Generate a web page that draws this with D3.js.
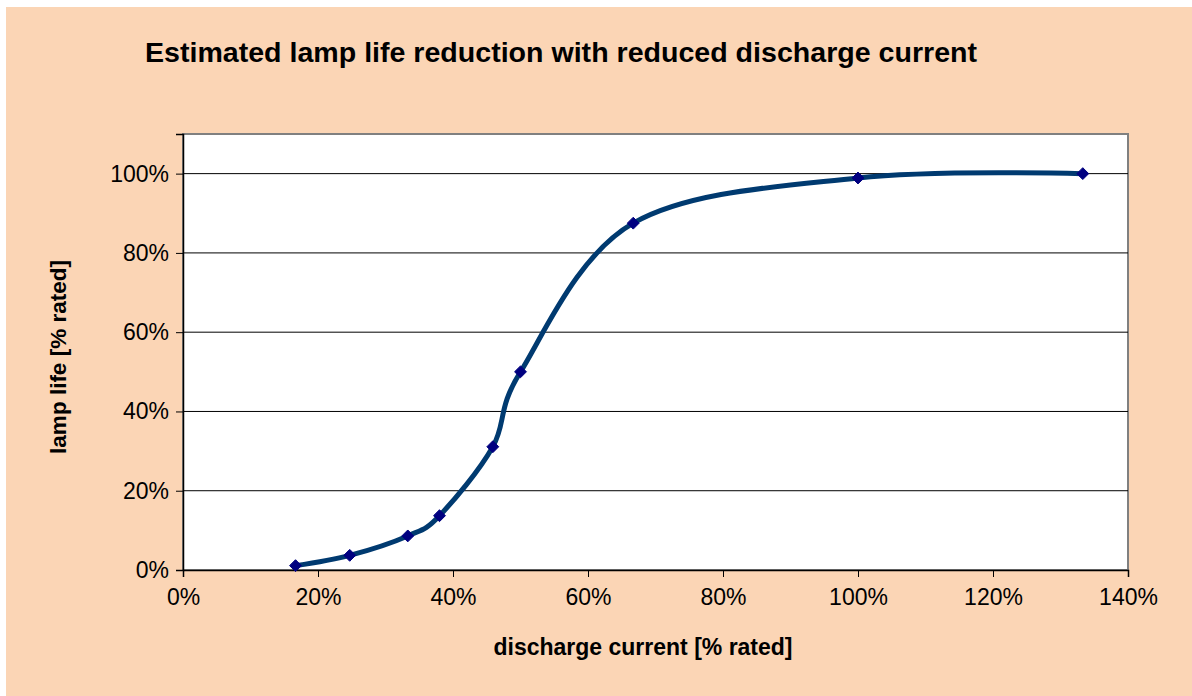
<!DOCTYPE html>
<html>
<head>
<meta charset="utf-8">
<script src="https://cdn.jsdelivr.net/npm/d3@7"></script>
<style>
  html, body { margin: 0; padding: 0; background: #ffffff; }
  svg { display: block; }
  text { font-family: "Liberation Sans", Arial, sans-serif; fill: #000; }
</style>
</head>
<body>
<svg id="chart" width="1192" height="696"></svg>
<script>
// Discharge current (% of rated) and the resulting lamp life (% of rated)
const currentPct = [16.67, 24.7, 33.3, 38.0, 45.9, 50.0, 66.7, 100.0, 133.3];
const lifePct    = [1.1, 3.7, 8.6, 13.7, 31.1, 50.0, 87.5, 98.9, 100.0];
const xTicks = [0, 20, 40, 60, 80, 100, 120, 140];
const yTicks = [0, 20, 40, 60, 80, 100];

const titleText = "Estimated lamp life reduction with reduced discharge current";
const xLabel = "discharge current [% rated]";
const yLabel = "lamp life [% rated]";

const svg = d3.select("#chart");
const W = 1192, H = 696;

// chart area background
svg.append("rect")
  .attr("x", 6).attr("y", 7)
  .attr("width", W - 6).attr("height", H - 7)
  .attr("fill", "#fbd5b5");

const plot = { left: 183, top: 134, right: 1128, bottom: 570 };

const x = d3.scaleLinear().domain([0, 140]).range([plot.left, plot.right]);
const y = d3.scaleLinear().domain([0, 110]).range([plot.bottom, plot.top]);

// plot area
svg.append("rect")
  .attr("x", plot.left).attr("y", plot.top)
  .attr("width", plot.right - plot.left).attr("height", plot.bottom - plot.top)
  .attr("fill", "#ffffff")
  .attr("stroke", "#808080").attr("stroke-width", 2);

// horizontal gridlines
svg.append("g")
  .selectAll("line")
  .data(yTicks.filter(d => d > 0))
  .join("line")
  .attr("x1", plot.left).attr("x2", plot.right)
  .attr("y1", d => y(d)).attr("y2", d => y(d))
  .attr("stroke", "#000").attr("stroke-width", 1);

const fmt = d => d + "%";
const tickFont = "'Liberation Sans', Arial, sans-serif";

// y axis
const yAxis = svg.append("g")
  .attr("transform", `translate(${plot.left},0)`)
  .call(d3.axisLeft(y).tickValues(yTicks).tickFormat(fmt).tickSizeOuter(0).tickSize(7).tickPadding(7));
yAxis.select(".domain").attr("stroke", "#000").attr("stroke-width", 1.5);
yAxis.selectAll(".tick line").attr("stroke", "#000");
yAxis.selectAll(".tick text")
  .style("font-size", "23px").style("font-family", tickFont)
  .attr("fill", "#000");

// x axis
const xAxis = svg.append("g")
  .attr("transform", `translate(0,${plot.bottom})`)
  .call(d3.axisBottom(x).tickValues(xTicks).tickFormat(fmt).tickSizeOuter(0).tickSize(7).tickPadding(12));
xAxis.select(".domain").attr("stroke", "#000").attr("stroke-width", 1.5);
xAxis.selectAll(".tick line").attr("stroke", "#000");
xAxis.selectAll(".tick text")
  .style("font-size", "23px").style("font-family", tickFont)
  .attr("fill", "#000");

// smoothed curve
const pts = currentPct.map((c, i) => [c, lifePct[i]]);
const line = d3.line()
  .x(d => x(d[0])).y(d => y(d[1]))
  .curve(d3.curveCardinal.tension(0));
svg.append("path")
  .datum(pts)
  .attr("d", line)
  .attr("fill", "none")
  .attr("stroke", "#003a70")
  .attr("stroke-width", 5)
  .attr("stroke-linejoin", "round");

// diamond markers
svg.append("g")
  .selectAll("path")
  .data(pts)
  .join("path")
  .attr("transform", d => `translate(${x(d[0])},${y(d[1])})`)
  .attr("d", d3.symbol(d3.symbolDiamond2, 90))
  .attr("fill", "#000080")
  .attr("stroke", "#000080").attr("stroke-width", 1);

// title
svg.append("text")
  .attr("x", 145).attr("y", 62)
  .attr("textLength", 832).attr("lengthAdjust", "spacingAndGlyphs")
  .style("font-size", "27px").style("font-weight", "bold")
  .text(titleText);

// axis titles
svg.append("text")
  .attr("x", 643).attr("y", 655)
  .attr("text-anchor", "middle")
  .style("font-size", "23px").style("font-weight", "bold")
  .text(xLabel);

svg.append("text")
  .attr("transform", "translate(66,357) rotate(-90)")
  .attr("text-anchor", "middle")
  .style("font-size", "22.5px").style("font-weight", "bold")
  .text(yLabel);
</script>
</body>
</html>
